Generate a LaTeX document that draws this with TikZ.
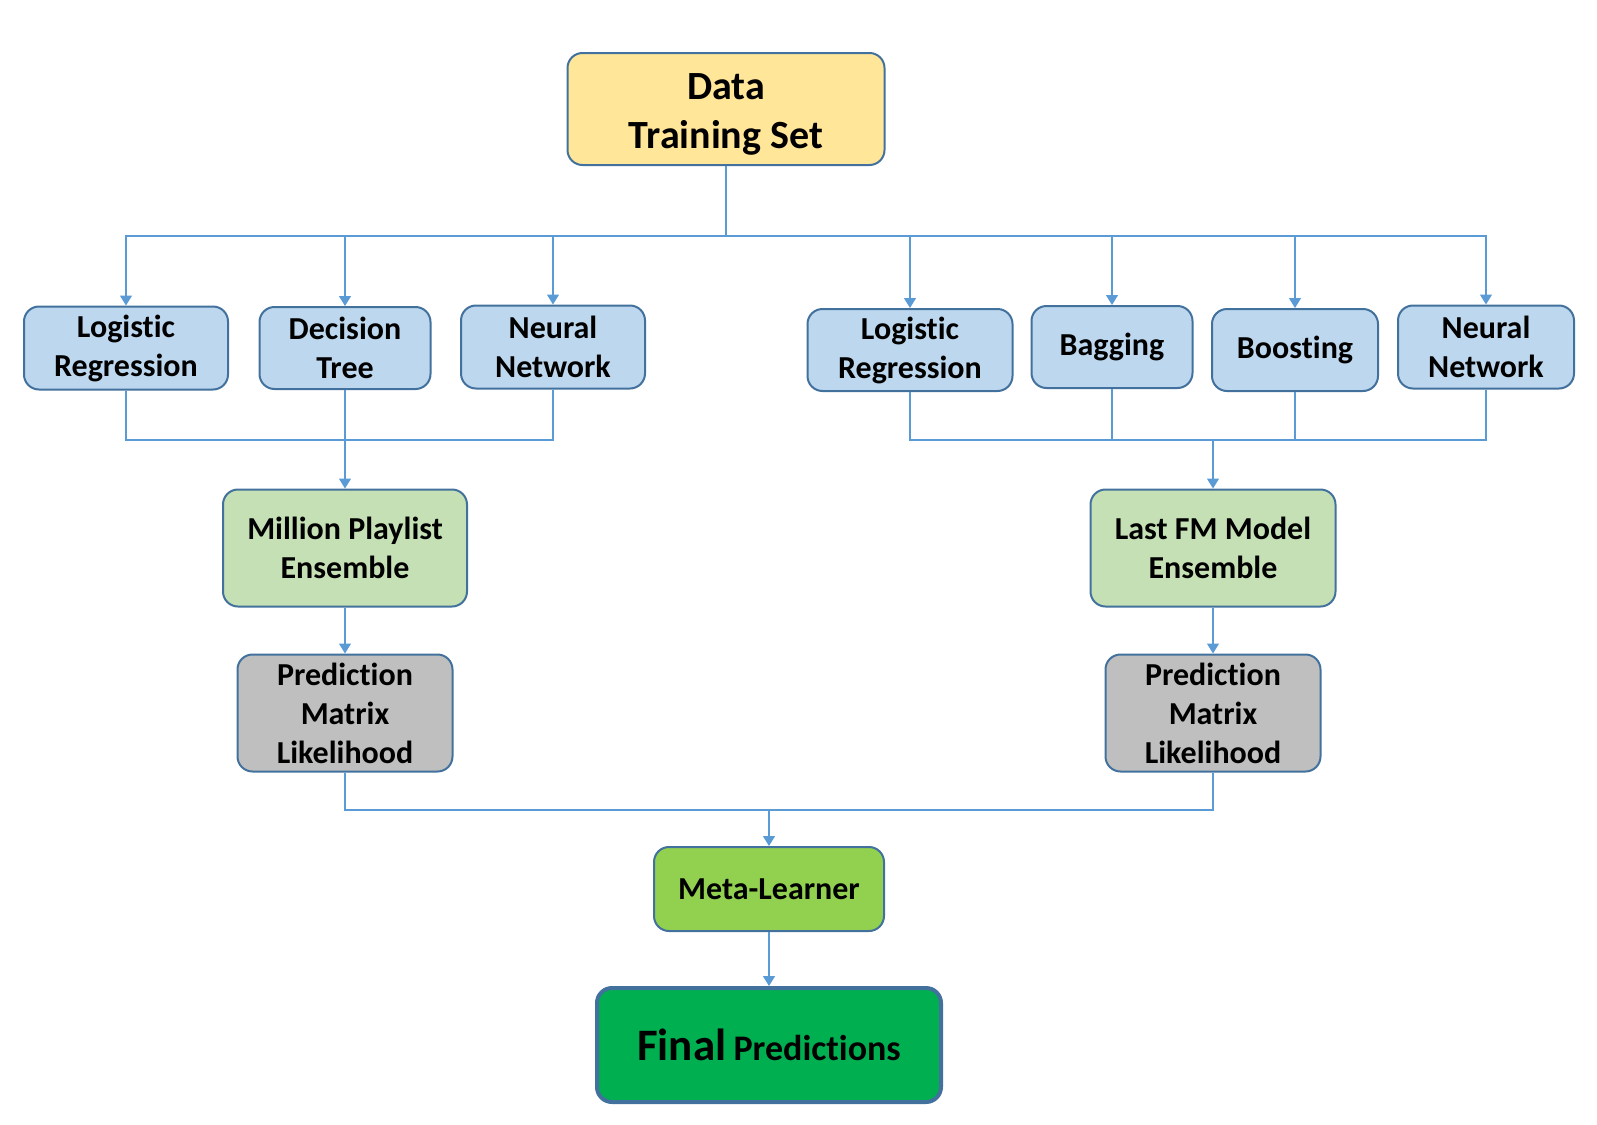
\documentclass[tikz,border=0pt]{standalone}
\usepackage{fontspec}
\setmainfont{Carlito}[Ligatures=NoCommon]
\usetikzlibrary{arrows.meta}
\definecolor{bxblue}{HTML}{BDD7EE}
\definecolor{bxborder}{HTML}{41719C}
\definecolor{bxyellow}{HTML}{FFE699}
\definecolor{bxlgreen}{HTML}{C5E0B4}
\definecolor{bxgrey}{HTML}{BFBFBF}
\definecolor{bxmeta}{HTML}{92D050}
\definecolor{bxfinal}{HTML}{00B050}
\definecolor{conn}{HTML}{5B9BD5}
\tikzset{
  box/.style={draw=bxborder, line width=1pt, rounded corners=7.5pt, align=center,
    font=\bfseries\fontsize{16}{19.5}\selectfont, inner sep=0pt},
  conline/.style={draw=conn, line width=0.7pt},
  arr/.style={conline, -{Triangle[width=6pt,length=5pt]}},
}
\begin{document}
\begin{tikzpicture}[x=0.5pt,y=-0.5pt]
\useasboundingbox (0,0) rectangle (1597,1125);
% top
\node[box, fill=bxyellow, minimum width=158.5pt, minimum height=56pt] (data) at (726,109) {};
\node[align=center, inner sep=0pt, font=\bfseries\fontsize{20}{24.5}\selectfont] (datatext) at (726,114) {Data\\Training Set};
% row 1
\node[box, fill=bxblue, minimum width=102pt, minimum height=41.5pt] (lr1) at (126,348) {Logistic\\Regression};
\node[box, fill=bxblue, minimum width=85.5pt, minimum height=41pt] (dt) at (345,348) {Decision\\Tree};
\node[box, fill=bxblue, minimum width=92pt, minimum height=41.5pt] (nn1) at (553,347) {Neural\\Network};
\node[box, fill=bxblue, minimum width=102.5pt, minimum height=41pt] (lr2) at (910,350) {Logistic\\Regression};
\node[box, fill=bxblue, minimum width=80.5pt, minimum height=41pt] (bag) at (1112,347) {Bagging};
\node[box, fill=bxblue, minimum width=83pt, minimum height=41pt] (boost) at (1295,350) {Boosting};
\node[box, fill=bxblue, minimum width=88pt, minimum height=41.5pt] (nn2) at (1486,347) {Neural\\Network};
% ensembles
\node[box, fill=bxlgreen, minimum width=122pt, minimum height=58.5pt] (mpe) at (345,548) {Million Playlist\\Ensemble};
\node[box, fill=bxlgreen, minimum width=122.5pt, minimum height=58.5pt] (lfm) at (1213,548) {Last FM Model\\Ensemble};
% prediction matrices
\node[box, fill=bxgrey, minimum width=107.5pt, minimum height=58.5pt] (pm1) at (345,713) {Prediction\\Matrix\\Likelihood};
\node[box, fill=bxgrey, minimum width=107.5pt, minimum height=58.5pt] (pm2) at (1213,713) {Prediction\\Matrix\\Likelihood};
% meta & final
\node[box, fill=bxmeta, minimum width=115pt, minimum height=42pt] (meta) at (769,889) {Meta-Learner};
\node[box, fill=bxfinal, line width=2pt, minimum width=172pt, minimum height=57pt] (final) at (769,1045) {{\fontsize{22.5}{26}\selectfont Final} {\fontsize{18}{22}\selectfont Predictions}};
% connector points
\coordinate (d1) at (726,236);
\coordinate (m1) at (345,440);
\coordinate (m2) at (1213,440);
\coordinate (m3) at (769,810);
% connectors
\draw[conline] (data.south) -- (d1);
\foreach \n in {lr1,dt,nn1,lr2,bag,boost,nn2}{\draw[arr] (d1) -| (\n.north);}
\draw[conline] (lr1.south) |- (m1);
\draw[conline] (nn1.south) |- (m1);
\draw[arr] (dt.south) -- (mpe.north);
\draw[conline] (lr2.south) |- (m2);
\draw[conline] (bag.south) |- (m2);
\draw[conline] (boost.south) |- (m2);
\draw[conline] (nn2.south) |- (m2);
\draw[arr] (m2) -- (lfm.north);
\draw[arr] (mpe.south) -- (pm1.north);
\draw[arr] (lfm.south) -- (pm2.north);
\draw[conline] (pm1.south) |- (m3);
\draw[conline] (pm2.south) |- (m3);
\draw[arr] (m3) -- (meta.north);
\draw[arr] (meta.south) -- (final.north);
\end{tikzpicture}
\end{document}
